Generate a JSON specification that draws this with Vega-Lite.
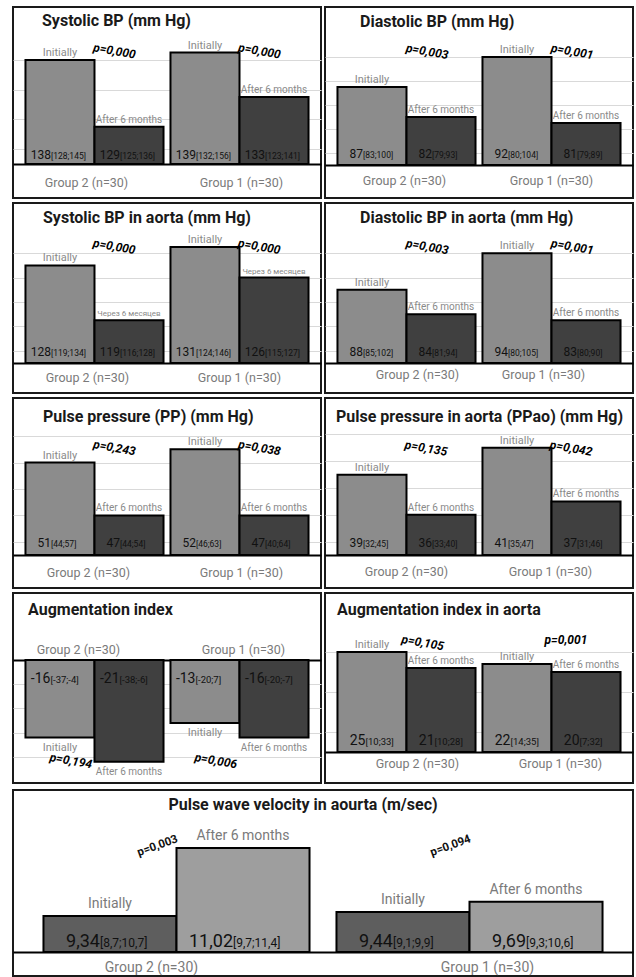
{
  "$schema": "https://vega.github.io/schema/vega-lite/v6.json",
  "background": "white",
  "padding": {"left": 12, "top": 6, "right": 0, "bottom": 0},
  "spacing": 5,
  "resolve": {"scale": {"color": "independent", "xOffset": "independent"}},
  "data": {"values": [
    {"panel":"sbp","group":"Group 2 (n=30)","phase":"Initially","label":"Initially","value":138,"num":"138","iqr":"[128;145]","p":"p=0,000"},
    {"panel":"sbp","group":"Group 2 (n=30)","phase":"After 6 months","label":"After 6 months","value":129,"num":"129","iqr":"[125;136]","p":"p=0,000"},
    {"panel":"sbp","group":"Group 1 (n=30)","phase":"Initially","label":"Initially","value":139,"num":"139","iqr":"[132;156]","p":"p=0,000"},
    {"panel":"sbp","group":"Group 1 (n=30)","phase":"After 6 months","label":"After 6 months","value":133,"num":"133","iqr":"[123;141]","p":"p=0,000"},
    {"panel":"dbp","group":"Group 2 (n=30)","phase":"Initially","label":"Initially","value":87,"num":"87","iqr":"[83;100]","p":"p=0,003"},
    {"panel":"dbp","group":"Group 2 (n=30)","phase":"After 6 months","label":"After 6 months","value":82,"num":"82","iqr":"[79;93]","p":"p=0,003"},
    {"panel":"dbp","group":"Group 1 (n=30)","phase":"Initially","label":"Initially","value":92,"num":"92","iqr":"[80;104]","p":"p=0,001"},
    {"panel":"dbp","group":"Group 1 (n=30)","phase":"After 6 months","label":"After 6 months","value":81,"num":"81","iqr":"[79;89]","p":"p=0,001"},
    {"panel":"sbpa","group":"Group 2 (n=30)","phase":"Initially","label":"Initially","value":128,"num":"128","iqr":"[119;134]","p":"p=0,000"},
    {"panel":"sbpa","group":"Group 2 (n=30)","phase":"After 6 months","label":"Через 6 месяцев","value":119,"num":"119","iqr":"[116;128]","p":"p=0,000"},
    {"panel":"sbpa","group":"Group 1 (n=30)","phase":"Initially","label":"Initially","value":131,"num":"131","iqr":"[124;146]","p":"p=0,000"},
    {"panel":"sbpa","group":"Group 1 (n=30)","phase":"After 6 months","label":"Через 6 месяцев","value":126,"num":"126","iqr":"[115;127]","p":"p=0,000"},
    {"panel":"dbpa","group":"Group 2 (n=30)","phase":"Initially","label":"Initially","value":88,"num":"88","iqr":"[85;102]","p":"p=0,003"},
    {"panel":"dbpa","group":"Group 2 (n=30)","phase":"After 6 months","label":"After 6 months","value":84,"num":"84","iqr":"[81;94]","p":"p=0,003"},
    {"panel":"dbpa","group":"Group 1 (n=30)","phase":"Initially","label":"Initially","value":94,"num":"94","iqr":"[80;105]","p":"p=0,001"},
    {"panel":"dbpa","group":"Group 1 (n=30)","phase":"After 6 months","label":"After 6 months","value":83,"num":"83","iqr":"[80;90]","p":"p=0,001"},
    {"panel":"pp","group":"Group 2 (n=30)","phase":"Initially","label":"Initially","value":51,"num":"51","iqr":"[44;57]","p":"p=0,243"},
    {"panel":"pp","group":"Group 2 (n=30)","phase":"After 6 months","label":"After 6 months","value":47,"num":"47","iqr":"[44;54]","p":"p=0,243"},
    {"panel":"pp","group":"Group 1 (n=30)","phase":"Initially","label":"Initially","value":52,"num":"52","iqr":"[46;63]","p":"p=0,038"},
    {"panel":"pp","group":"Group 1 (n=30)","phase":"After 6 months","label":"After 6 months","value":47,"num":"47","iqr":"[40;64]","p":"p=0,038"},
    {"panel":"ppa","group":"Group 2 (n=30)","phase":"Initially","label":"Initially","value":39,"num":"39","iqr":"[32;45]","p":"p=0,135"},
    {"panel":"ppa","group":"Group 2 (n=30)","phase":"After 6 months","label":"After 6 months","value":36,"num":"36","iqr":"[33;40]","p":"p=0,135"},
    {"panel":"ppa","group":"Group 1 (n=30)","phase":"Initially","label":"Initially","value":41,"num":"41","iqr":"[35;47]","p":"p=0,042"},
    {"panel":"ppa","group":"Group 1 (n=30)","phase":"After 6 months","label":"After 6 months","value":37,"num":"37","iqr":"[31;46]","p":"p=0,042"},
    {"panel":"ai","group":"Group 2 (n=30)","phase":"Initially","label":"Initially","value":-16,"num":"-16","iqr":"[-37;-4]","p":"p=0,194"},
    {"panel":"ai","group":"Group 2 (n=30)","phase":"After 6 months","label":"After 6 months","value":-21,"num":"-21","iqr":"[-38;-6]","p":"p=0,194"},
    {"panel":"ai","group":"Group 1 (n=30)","phase":"Initially","label":"Initially","value":-13,"num":"-13","iqr":"[-20;7]","p":"p=0,006"},
    {"panel":"ai","group":"Group 1 (n=30)","phase":"After 6 months","label":"After 6 months","value":-16,"num":"-16","iqr":"[-20;-7]","p":"p=0,006"},
    {"panel":"aia","group":"Group 2 (n=30)","phase":"Initially","label":"Initially","value":25,"num":"25","iqr":"[10;33]","p":"p=0,105"},
    {"panel":"aia","group":"Group 2 (n=30)","phase":"After 6 months","label":"After 6 months","value":21,"num":"21","iqr":"[10;28]","p":"p=0,105"},
    {"panel":"aia","group":"Group 1 (n=30)","phase":"Initially","label":"Initially","value":22,"num":"22","iqr":"[14;35]","p":"p=0,001"},
    {"panel":"aia","group":"Group 1 (n=30)","phase":"After 6 months","label":"After 6 months","value":20,"num":"20","iqr":"[7;32]","p":"p=0,001"},
    {"panel":"pwv","group":"Group 2 (n=30)","phase":"Initially","label":"Initially","value":9.34,"num":"9,34","iqr":"[8,7;10,7]","p":"p=0,003"},
    {"panel":"pwv","group":"Group 2 (n=30)","phase":"After 6 months","label":"After 6 months","value":11.02,"num":"11,02","iqr":"[9,7;11,4]","p":"p=0,003"},
    {"panel":"pwv","group":"Group 1 (n=30)","phase":"Initially","label":"Initially","value":9.44,"num":"9,44","iqr":"[9,1;9,9]","p":"p=0,094"},
    {"panel":"pwv","group":"Group 1 (n=30)","phase":"After 6 months","label":"After 6 months","value":9.69,"num":"9,69","iqr":"[9,3;10,6]","p":"p=0,094"}
  ]},
  "vconcat": [
    {
      "spacing": 3,
      "resolve": {"scale": {"color": "independent", "xOffset": "independent"}},
      "vconcat": [
        {
          "spacing": 2,
          "resolve": {"scale": {"color": "independent", "xOffset": "independent"}},
          "hconcat": [
            {
              "width": 308, "height": 191,
              "title": {"text": "Systolic BP (mm Hg)", "anchor": "start", "frame": "group", "offset": -35, "dx": 29, "baseline": "alphabetic"},
              "transform": [{"filter": "datum.panel === 'sbp'"}, {"joinaggregate": [{"op": "max", "field": "value", "as": "vext"}]}],
              "encoding": {"x": {"field": "group", "type": "nominal", "sort": ["Group 2 (n=30)", "Group 1 (n=30)"], "title": null, "scale": {"paddingInner": 0.048, "paddingOuter": 0.086}, "axis": {"orient": "bottom", "offset": -34, "labelPadding": 12, "labelOffset": {"condition": {"test": "datum.value === 'Group 2 (n=30)'", "value": -8}, "value": 2}}}},
              "layer": [
                {"mark": {"type": "bar", "stroke": "#000", "strokeWidth": 2},
                 "encoding": {"xOffset": {"field": "phase", "type": "nominal", "sort": ["Initially", "After 6 months"], "scale": {"paddingInner": 0, "paddingOuter": 0}},
                   "y": {"field": "value", "type": "quantitative", "title": null, "scale": {"domain": [119.42, 145.13], "zero": false, "nice": false}, "axis": {"values": [126,128,130,132,134,136,138,140]}},
                   "y2": {"datum": 124},
                   "color": {"field": "phase", "type": "nominal", "scale": {"domain": ["Initially", "After 6 months"], "range": ["#8c8c8c", "#404040"]}, "legend": null}}},
                {"mark": {"type": "text", "align": "right", "baseline": "alphabetic", "dx": -9, "dy": -5, "fontSize": 12, "color": "#111"},
                 "encoding": {"xOffset": {"field": "phase", "type": "nominal", "sort": ["Initially", "After 6 months"]}, "y": {"datum": 124, "type": "quantitative", "title": null, "scale": {"domain": [119.42, 145.13], "zero": false, "nice": false}}, "text": {"field": "num"}}},
                {"mark": {"type": "text", "align": "left", "baseline": "alphabetic", "dx": -9, "dy": -5, "fontSize": 8.5, "color": "#111"},
                 "encoding": {"xOffset": {"field": "phase", "type": "nominal", "sort": ["Initially", "After 6 months"]}, "y": {"datum": 124, "type": "quantitative", "title": null, "scale": {"domain": [119.42, 145.13], "zero": false, "nice": false}}, "text": {"field": "iqr"}}},
                {"mark": {"type": "text", "baseline": "alphabetic", "dy": -4, "color": "#8a8a8a"},
                 "encoding": {"xOffset": {"field": "phase", "type": "nominal", "sort": ["Initially", "After 6 months"]}, "y": {"field": "value", "type": "quantitative", "title": null, "scale": {"domain": [119.42, 145.13], "zero": false, "nice": false}}, "text": {"field": "label"},
                   "size": {"condition": [{"test": "datum.phase === 'Initially'", "value": 11}, {"test": "datum.label !== datum.phase", "value": 8}], "value": 10}}},
                {"transform": [{"filter": "datum.phase === 'Initially'"}],
                 "mark": {"type": "text", "align": "left", "baseline": "middle", "angle": 10, "dx": -2, "dy": -5, "fontSize": 12, "fontWeight": "bold", "fontStyle": "italic", "color": "#000"},
                 "encoding": {"y": {"field": "vext", "type": "quantitative", "title": null, "scale": {"domain": [119.42, 145.13], "zero": false, "nice": false}}, "text": {"field": "p"}}}
              ]
            },
            {
              "width": 308, "height": 191,
              "title": {"text": "Diastolic BP (mm Hg)", "anchor": "start", "frame": "group", "offset": -36, "dx": 35, "baseline": "alphabetic"},
              "transform": [{"filter": "datum.panel === 'dbp'"}, {"joinaggregate": [{"op": "max", "field": "value", "as": "vext"}]}],
              "encoding": {"x": {"field": "group", "type": "nominal", "sort": ["Group 2 (n=30)", "Group 1 (n=30)"], "title": null, "scale": {"paddingInner": 0.048, "paddingOuter": 0.086}, "axis": {"orient": "bottom", "offset": -33, "labelPadding": 9, "labelOffset": {"condition": {"test": "datum.value === 'Group 2 (n=30)'", "value": -2}, "value": 0}}}},
              "layer": [
                {"mark": {"type": "bar", "stroke": "#000", "strokeWidth": 2},
                 "encoding": {"xOffset": {"field": "phase", "type": "nominal", "sort": ["Initially", "After 6 months"], "scale": {"paddingInner": 0, "paddingOuter": 0}},
                   "y": {"field": "value", "type": "quantitative", "title": null, "scale": {"domain": [68.5, 100.33], "zero": false, "nice": false}, "axis": {"values": [76,78,80,82,84,86,88,90,92,94]}},
                   "y2": {"datum": 74},
                   "color": {"field": "phase", "type": "nominal", "scale": {"domain": ["Initially", "After 6 months"], "range": ["#8c8c8c", "#404040"]}, "legend": null}}},
                {"mark": {"type": "text", "align": "right", "baseline": "alphabetic", "dx": -9, "dy": -7, "fontSize": 12, "color": "#111"},
                 "encoding": {"xOffset": {"field": "phase", "type": "nominal", "sort": ["Initially", "After 6 months"]}, "y": {"datum": 74, "type": "quantitative", "title": null, "scale": {"domain": [68.5, 100.33], "zero": false, "nice": false}}, "text": {"field": "num"}}},
                {"mark": {"type": "text", "align": "left", "baseline": "alphabetic", "dx": -9, "dy": -7, "fontSize": 8.5, "color": "#111"},
                 "encoding": {"xOffset": {"field": "phase", "type": "nominal", "sort": ["Initially", "After 6 months"]}, "y": {"datum": 74, "type": "quantitative", "title": null, "scale": {"domain": [68.5, 100.33], "zero": false, "nice": false}}, "text": {"field": "iqr"}}},
                {"mark": {"type": "text", "baseline": "alphabetic", "dy": -4, "color": "#8a8a8a"},
                 "encoding": {"xOffset": {"field": "phase", "type": "nominal", "sort": ["Initially", "After 6 months"]}, "y": {"field": "value", "type": "quantitative", "title": null, "scale": {"domain": [68.5, 100.33], "zero": false, "nice": false}}, "text": {"field": "label"},
                   "size": {"condition": [{"test": "datum.phase === 'Initially'", "value": 11}, {"test": "datum.label !== datum.phase", "value": 8}], "value": 10}}},
                {"transform": [{"filter": "datum.phase === 'Initially'"}],
                 "mark": {"type": "text", "align": "left", "baseline": "middle", "angle": 10, "dx": -2, "dy": -9, "fontSize": 12, "fontWeight": "bold", "fontStyle": "italic", "color": "#000"},
                 "encoding": {"y": {"field": "vext", "type": "quantitative", "title": null, "scale": {"domain": [68.5, 100.33], "zero": false, "nice": false}}, "text": {"field": "p"}}}
              ]
            }
          ]
        },
        {
          "spacing": 2,
          "resolve": {"scale": {"color": "independent", "xOffset": "independent"}},
          "hconcat": [
            {
              "width": 308, "height": 190,
              "title": {"text": "Systolic BP in aorta (mm Hg)", "anchor": "start", "frame": "group", "offset": -36, "dx": 30, "baseline": "alphabetic"},
              "transform": [{"filter": "datum.panel === 'sbpa'"}, {"joinaggregate": [{"op": "max", "field": "value", "as": "vext"}]}],
              "encoding": {"x": {"field": "group", "type": "nominal", "sort": ["Group 2 (n=30)", "Group 1 (n=30)"], "title": null, "scale": {"paddingInner": 0.048, "paddingOuter": 0.086}, "axis": {"orient": "bottom", "offset": -30, "labelPadding": 8, "labelOffset": {"condition": {"test": "datum.value === 'Group 2 (n=30)'", "value": -7}, "value": 0}}}},
              "layer": [
                {"mark": {"type": "bar", "stroke": "#000", "strokeWidth": 2},
                 "encoding": {"xOffset": {"field": "phase", "type": "nominal", "sort": ["Initially", "After 6 months"], "scale": {"paddingInner": 0, "paddingOuter": 0}},
                   "y": {"field": "value", "type": "quantitative", "title": null, "scale": {"domain": [107.08, 138.23], "zero": false, "nice": false}, "axis": {"values": [114,116,118,120,122,124,126,128,130,132]}},
                   "y2": {"datum": 112},
                   "color": {"field": "phase", "type": "nominal", "scale": {"domain": ["Initially", "After 6 months"], "range": ["#8c8c8c", "#404040"]}, "legend": null}}},
                {"mark": {"type": "text", "align": "right", "baseline": "alphabetic", "dx": -9, "dy": -7, "fontSize": 12, "color": "#111"},
                 "encoding": {"xOffset": {"field": "phase", "type": "nominal", "sort": ["Initially", "After 6 months"]}, "y": {"datum": 112, "type": "quantitative", "title": null, "scale": {"domain": [107.08, 138.23], "zero": false, "nice": false}}, "text": {"field": "num"}}},
                {"mark": {"type": "text", "align": "left", "baseline": "alphabetic", "dx": -9, "dy": -7, "fontSize": 8.5, "color": "#111"},
                 "encoding": {"xOffset": {"field": "phase", "type": "nominal", "sort": ["Initially", "After 6 months"]}, "y": {"datum": 112, "type": "quantitative", "title": null, "scale": {"domain": [107.08, 138.23], "zero": false, "nice": false}}, "text": {"field": "iqr"}}},
                {"mark": {"type": "text", "baseline": "alphabetic", "dy": -4, "color": "#8a8a8a"},
                 "encoding": {"xOffset": {"field": "phase", "type": "nominal", "sort": ["Initially", "After 6 months"]}, "y": {"field": "value", "type": "quantitative", "title": null, "scale": {"domain": [107.08, 138.23], "zero": false, "nice": false}}, "text": {"field": "label"},
                   "size": {"condition": [{"test": "datum.phase === 'Initially'", "value": 11}, {"test": "datum.label !== datum.phase", "value": 8}], "value": 10}}},
                {"transform": [{"filter": "datum.phase === 'Initially'"}],
                 "mark": {"type": "text", "align": "left", "baseline": "middle", "angle": 10, "dx": -2, "dy": -4, "fontSize": 12, "fontWeight": "bold", "fontStyle": "italic", "color": "#000"},
                 "encoding": {"y": {"field": "vext", "type": "quantitative", "title": null, "scale": {"domain": [107.08, 138.23], "zero": false, "nice": false}}, "text": {"field": "p"}}}
              ]
            },
            {
              "width": 308, "height": 190,
              "title": {"text": "Diastolic BP in aorta (mm Hg)", "anchor": "start", "frame": "group", "offset": -36, "dx": 35, "baseline": "alphabetic"},
              "transform": [{"filter": "datum.panel === 'dbpa'"}, {"joinaggregate": [{"op": "max", "field": "value", "as": "vext"}]}],
              "encoding": {"x": {"field": "group", "type": "nominal", "sort": ["Group 2 (n=30)", "Group 1 (n=30)"], "title": null, "scale": {"paddingInner": 0.048, "paddingOuter": 0.086}, "axis": {"orient": "bottom", "offset": -30, "labelPadding": 5, "labelOffset": {"condition": {"test": "datum.value === 'Group 2 (n=30)'", "value": 11}, "value": -8}}}},
              "layer": [
                {"mark": {"type": "bar", "stroke": "#000", "strokeWidth": 2},
                 "encoding": {"xOffset": {"field": "phase", "type": "nominal", "sort": ["Initially", "After 6 months"], "scale": {"paddingInner": 0, "paddingOuter": 0}},
                   "y": {"field": "value", "type": "quantitative", "title": null, "scale": {"domain": [71.08, 102.23], "zero": false, "nice": false}, "axis": {"values": [78,80,82,84,86,88,90,92,94,96]}},
                   "y2": {"datum": 76},
                   "color": {"field": "phase", "type": "nominal", "scale": {"domain": ["Initially", "After 6 months"], "range": ["#8c8c8c", "#404040"]}, "legend": null}}},
                {"mark": {"type": "text", "align": "right", "baseline": "alphabetic", "dx": -9, "dy": -7, "fontSize": 12, "color": "#111"},
                 "encoding": {"xOffset": {"field": "phase", "type": "nominal", "sort": ["Initially", "After 6 months"]}, "y": {"datum": 76, "type": "quantitative", "title": null, "scale": {"domain": [71.08, 102.23], "zero": false, "nice": false}}, "text": {"field": "num"}}},
                {"mark": {"type": "text", "align": "left", "baseline": "alphabetic", "dx": -9, "dy": -7, "fontSize": 8.5, "color": "#111"},
                 "encoding": {"xOffset": {"field": "phase", "type": "nominal", "sort": ["Initially", "After 6 months"]}, "y": {"datum": 76, "type": "quantitative", "title": null, "scale": {"domain": [71.08, 102.23], "zero": false, "nice": false}}, "text": {"field": "iqr"}}},
                {"mark": {"type": "text", "baseline": "alphabetic", "dy": -4, "color": "#8a8a8a"},
                 "encoding": {"xOffset": {"field": "phase", "type": "nominal", "sort": ["Initially", "After 6 months"]}, "y": {"field": "value", "type": "quantitative", "title": null, "scale": {"domain": [71.08, 102.23], "zero": false, "nice": false}}, "text": {"field": "label"},
                   "size": {"condition": [{"test": "datum.phase === 'Initially'", "value": 11}, {"test": "datum.label !== datum.phase", "value": 8}], "value": 10}}},
                {"transform": [{"filter": "datum.phase === 'Initially'"}],
                 "mark": {"type": "text", "align": "left", "baseline": "middle", "angle": 10, "dx": -2, "dy": -10, "fontSize": 12, "fontWeight": "bold", "fontStyle": "italic", "color": "#000"},
                 "encoding": {"y": {"field": "vext", "type": "quantitative", "title": null, "scale": {"domain": [71.08, 102.23], "zero": false, "nice": false}}, "text": {"field": "p"}}}
              ]
            }
          ]
        },
        {
          "spacing": 2,
          "resolve": {"scale": {"color": "independent", "xOffset": "independent"}},
          "hconcat": [
            {
              "width": 308, "height": 190,
              "title": {"text": "Pulse pressure (PP) (mm Hg)", "anchor": "start", "frame": "group", "offset": -40, "dx": 30, "baseline": "alphabetic"},
              "transform": [{"filter": "datum.panel === 'pp'"}, {"joinaggregate": [{"op": "max", "field": "value", "as": "vext"}]}],
              "encoding": {"x": {"field": "group", "type": "nominal", "sort": ["Group 2 (n=30)", "Group 1 (n=30)"], "title": null, "scale": {"paddingInner": 0.048, "paddingOuter": 0.086}, "axis": {"orient": "bottom", "offset": -33, "labelPadding": 11, "labelOffset": {"condition": {"test": "datum.value === 'Group 2 (n=30)'", "value": -6}, "value": 2}}}},
              "layer": [
                {"mark": {"type": "bar", "stroke": "#000", "strokeWidth": 2},
                 "encoding": {"xOffset": {"field": "phase", "type": "nominal", "sort": ["Initially", "After 6 months"], "scale": {"paddingInner": 0, "paddingOuter": 0}},
                   "y": {"field": "value", "type": "quantitative", "title": null, "scale": {"domain": [41.5, 55.89], "zero": false, "nice": false}, "axis": {"values": [45,46,47,48,49,50,51,52,53]}},
                   "y2": {"datum": 44},
                   "color": {"field": "phase", "type": "nominal", "scale": {"domain": ["Initially", "After 6 months"], "range": ["#8c8c8c", "#404040"]}, "legend": null}}},
                {"mark": {"type": "text", "align": "right", "baseline": "alphabetic", "dx": -9, "dy": -8, "fontSize": 12, "color": "#111"},
                 "encoding": {"xOffset": {"field": "phase", "type": "nominal", "sort": ["Initially", "After 6 months"]}, "y": {"datum": 44, "type": "quantitative", "title": null, "scale": {"domain": [41.5, 55.89], "zero": false, "nice": false}}, "text": {"field": "num"}}},
                {"mark": {"type": "text", "align": "left", "baseline": "alphabetic", "dx": -9, "dy": -8, "fontSize": 8.5, "color": "#111"},
                 "encoding": {"xOffset": {"field": "phase", "type": "nominal", "sort": ["Initially", "After 6 months"]}, "y": {"datum": 44, "type": "quantitative", "title": null, "scale": {"domain": [41.5, 55.89], "zero": false, "nice": false}}, "text": {"field": "iqr"}}},
                {"mark": {"type": "text", "baseline": "alphabetic", "dy": -4, "color": "#8a8a8a"},
                 "encoding": {"xOffset": {"field": "phase", "type": "nominal", "sort": ["Initially", "After 6 months"]}, "y": {"field": "value", "type": "quantitative", "title": null, "scale": {"domain": [41.5, 55.89], "zero": false, "nice": false}}, "text": {"field": "label"},
                   "size": {"condition": [{"test": "datum.phase === 'Initially'", "value": 11}, {"test": "datum.label !== datum.phase", "value": 8}], "value": 10}}},
                {"transform": [{"filter": "datum.phase === 'Initially'"}],
                 "mark": {"type": "text", "align": "left", "baseline": "middle", "angle": 10, "dx": -2, "dy": -5, "fontSize": 12, "fontWeight": "bold", "fontStyle": "italic", "color": "#000"},
                 "encoding": {"y": {"field": "vext", "type": "quantitative", "title": null, "scale": {"domain": [41.5, 55.89], "zero": false, "nice": false}}, "text": {"field": "p"}}}
              ]
            },
            {
              "width": 308, "height": 190,
              "title": {"text": "Pulse pressure in aorta (PPao) (mm Hg)", "anchor": "start", "frame": "group", "offset": -40, "dx": 11, "baseline": "alphabetic"},
              "transform": [{"filter": "datum.panel === 'ppa'"}, {"joinaggregate": [{"op": "max", "field": "value", "as": "vext"}]}],
              "encoding": {"x": {"field": "group", "type": "nominal", "sort": ["Group 2 (n=30)", "Group 1 (n=30)"], "title": null, "scale": {"paddingInner": 0.048, "paddingOuter": 0.086}, "axis": {"orient": "bottom", "offset": -33, "labelPadding": 10, "labelOffset": {"condition": {"test": "datum.value === 'Group 2 (n=30)'", "value": 0}, "value": -1}}}},
              "layer": [
                {"mark": {"type": "bar", "stroke": "#000", "strokeWidth": 2},
                 "encoding": {"xOffset": {"field": "phase", "type": "nominal", "sort": ["Initially", "After 6 months"], "scale": {"paddingInner": 0, "paddingOuter": 0}},
                   "y": {"field": "value", "type": "quantitative", "title": null, "scale": {"domain": [30.54, 44.72], "zero": false, "nice": false}, "axis": {"values": [34,35,36,37,38,39,40,41,42]}},
                   "y2": {"datum": 33},
                   "color": {"field": "phase", "type": "nominal", "scale": {"domain": ["Initially", "After 6 months"], "range": ["#8c8c8c", "#404040"]}, "legend": null}}},
                {"mark": {"type": "text", "align": "right", "baseline": "alphabetic", "dx": -9, "dy": -8, "fontSize": 12, "color": "#111"},
                 "encoding": {"xOffset": {"field": "phase", "type": "nominal", "sort": ["Initially", "After 6 months"]}, "y": {"datum": 33, "type": "quantitative", "title": null, "scale": {"domain": [30.54, 44.72], "zero": false, "nice": false}}, "text": {"field": "num"}}},
                {"mark": {"type": "text", "align": "left", "baseline": "alphabetic", "dx": -9, "dy": -8, "fontSize": 8.5, "color": "#111"},
                 "encoding": {"xOffset": {"field": "phase", "type": "nominal", "sort": ["Initially", "After 6 months"]}, "y": {"datum": 33, "type": "quantitative", "title": null, "scale": {"domain": [30.54, 44.72], "zero": false, "nice": false}}, "text": {"field": "iqr"}}},
                {"mark": {"type": "text", "baseline": "alphabetic", "dy": -4, "color": "#8a8a8a"},
                 "encoding": {"xOffset": {"field": "phase", "type": "nominal", "sort": ["Initially", "After 6 months"]}, "y": {"field": "value", "type": "quantitative", "title": null, "scale": {"domain": [30.54, 44.72], "zero": false, "nice": false}}, "text": {"field": "label"},
                   "size": {"condition": [{"test": "datum.phase === 'Initially'", "value": 11}, {"test": "datum.label !== datum.phase", "value": 8}], "value": 10}}},
                {"transform": [{"filter": "datum.phase === 'Initially'"}],
                 "mark": {"type": "text", "align": "left", "baseline": "middle", "angle": 10, "dx": -2, "dy": -3, "fontSize": 12, "fontWeight": "bold", "fontStyle": "italic", "color": "#000"},
                 "encoding": {"y": {"field": "vext", "type": "quantitative", "title": null, "scale": {"domain": [30.54, 44.72], "zero": false, "nice": false}}, "text": {"field": "p"}}}
              ]
            }
          ]
        },
        {
          "spacing": 2,
          "resolve": {"scale": {"color": "independent", "xOffset": "independent"}},
          "hconcat": [
            {
              "width": 308, "height": 190,
              "title": {"text": "Augmentation index", "anchor": "start", "frame": "group", "offset": -38, "dx": 15, "baseline": "alphabetic"},
              "transform": [{"filter": "datum.panel === 'ai'"}, {"joinaggregate": [{"op": "min", "field": "value", "as": "vext"}]}],
              "encoding": {"x": {"field": "group", "type": "nominal", "sort": ["Group 2 (n=30)", "Group 1 (n=30)"], "title": null, "scale": {"paddingInner": 0.048, "paddingOuter": 0.086}, "axis": {"orient": "top", "offset": -67, "labelPadding": 4, "labelOffset": {"condition": {"test": "datum.value === 'Group 2 (n=30)'", "value": -16}, "value": 4}}}},
              "layer": [
                {"mark": {"type": "bar", "stroke": "#000", "strokeWidth": 2},
                 "encoding": {"xOffset": {"field": "phase", "type": "nominal", "sort": ["Initially", "After 6 months"], "scale": {"paddingInner": 0, "paddingOuter": 0}},
                   "y": {"field": "value", "type": "quantitative", "title": null, "scale": {"domain": [-25.36, 13.81], "zero": false, "nice": false}, "axis": {"values": [-5,-10,-15,-20]}},
                   "y2": {"datum": 0},
                   "color": {"field": "phase", "type": "nominal", "scale": {"domain": ["Initially", "After 6 months"], "range": ["#8c8c8c", "#404040"]}, "legend": null}}},
                {"mark": {"type": "text", "align": "right", "baseline": "alphabetic", "dx": -9.5, "dy": 23, "fontSize": 14, "color": "#111"},
                 "encoding": {"xOffset": {"field": "phase", "type": "nominal", "sort": ["Initially", "After 6 months"]}, "y": {"datum": 0, "type": "quantitative", "title": null, "scale": {"domain": [-25.36, 13.81], "zero": false, "nice": false}}, "text": {"field": "num"}}},
                {"mark": {"type": "text", "align": "left", "baseline": "alphabetic", "dx": -9.5, "dy": 23, "fontSize": 9.5, "color": "#111"},
                 "encoding": {"xOffset": {"field": "phase", "type": "nominal", "sort": ["Initially", "After 6 months"]}, "y": {"datum": 0, "type": "quantitative", "title": null, "scale": {"domain": [-25.36, 13.81], "zero": false, "nice": false}}, "text": {"field": "iqr"}}},
                {"mark": {"type": "text", "baseline": "middle", "dy": 10, "color": "#8a8a8a"},
                 "encoding": {"xOffset": {"field": "phase", "type": "nominal", "sort": ["Initially", "After 6 months"]}, "y": {"field": "value", "type": "quantitative", "title": null, "scale": {"domain": [-25.36, 13.81], "zero": false, "nice": false}}, "text": {"field": "label"},
                   "size": {"condition": [{"test": "datum.phase === 'Initially'", "value": 11}, {"test": "datum.label !== datum.phase", "value": 8}], "value": 10}}},
                {"transform": [{"filter": "datum.phase === 'Initially'"}],
                 "mark": {"type": "text", "align": "right", "baseline": "middle", "angle": 10, "dx": -2, "dy": 3, "fontSize": 12, "fontWeight": "bold", "fontStyle": "italic", "color": "#000"},
                 "encoding": {"y": {"field": "vext", "type": "quantitative", "title": null, "scale": {"domain": [-25.36, 13.81], "zero": false, "nice": false}}, "text": {"field": "p"}}}
              ]
            },
            {
              "width": 308, "height": 190,
              "title": {"text": "Augmentation index in aorta", "anchor": "start", "frame": "group", "offset": -38, "dx": 12, "baseline": "alphabetic"},
              "transform": [{"filter": "datum.panel === 'aia'"}, {"joinaggregate": [{"op": "max", "field": "value", "as": "vext"}]}],
              "encoding": {"x": {"field": "group", "type": "nominal", "sort": ["Group 2 (n=30)", "Group 1 (n=30)"], "title": null, "scale": {"paddingInner": 0.048, "paddingOuter": 0.086}, "axis": {"orient": "bottom", "offset": -31, "labelPadding": 5, "labelOffset": {"condition": {"test": "datum.value === 'Group 2 (n=30)'", "value": 11}, "value": 9}}}},
              "layer": [
                {"mark": {"type": "bar", "stroke": "#000", "strokeWidth": 2},
                 "encoding": {"xOffset": {"field": "phase", "type": "nominal", "sort": ["Initially", "After 6 months"], "scale": {"paddingInner": 0, "paddingOuter": 0}},
                   "y": {"field": "value", "type": "quantitative", "title": null, "scale": {"domain": [-7.75, 39.75], "zero": false, "nice": false}, "axis": {"values": [5,10,15,20,25,30]}},
                   "y2": {"datum": 0},
                   "color": {"field": "phase", "type": "nominal", "scale": {"domain": ["Initially", "After 6 months"], "range": ["#8c8c8c", "#404040"]}, "legend": null}}},
                {"mark": {"type": "text", "align": "right", "baseline": "alphabetic", "dx": -6.5, "dy": -7, "fontSize": 14, "color": "#111"},
                 "encoding": {"xOffset": {"field": "phase", "type": "nominal", "sort": ["Initially", "After 6 months"]}, "y": {"datum": 0, "type": "quantitative", "title": null, "scale": {"domain": [-7.75, 39.75], "zero": false, "nice": false}}, "text": {"field": "num"}}},
                {"mark": {"type": "text", "align": "left", "baseline": "alphabetic", "dx": -6.5, "dy": -7, "fontSize": 9.5, "color": "#111"},
                 "encoding": {"xOffset": {"field": "phase", "type": "nominal", "sort": ["Initially", "After 6 months"]}, "y": {"datum": 0, "type": "quantitative", "title": null, "scale": {"domain": [-7.75, 39.75], "zero": false, "nice": false}}, "text": {"field": "iqr"}}},
                {"mark": {"type": "text", "baseline": "alphabetic", "dy": -4, "color": "#8a8a8a"},
                 "encoding": {"xOffset": {"field": "phase", "type": "nominal", "sort": ["Initially", "After 6 months"]}, "y": {"field": "value", "type": "quantitative", "title": null, "scale": {"domain": [-7.75, 39.75], "zero": false, "nice": false}}, "text": {"field": "label"},
                   "size": {"condition": [{"test": "datum.phase === 'Initially'", "value": 11}, {"test": "datum.label !== datum.phase", "value": 8}], "value": 10}}},
                {"transform": [{"filter": "datum.phase === 'Initially'"}],
                 "mark": {"type": "text", "align": "left", "baseline": "middle", "dx": -7, "dy": -12, "fontSize": 12, "fontWeight": "bold", "fontStyle": "italic", "color": "#000"},
                 "encoding": {"y": {"field": "vext", "type": "quantitative", "title": null, "scale": {"domain": [-7.75, 39.75], "zero": false, "nice": false}}, "text": {"field": "p"},
                   "angle": {"condition": {"test": "datum.group === 'Group 1 (n=30)'", "value": 0}, "value": 10}}}
              ]
            }
          ]
        }
      ]
    },
    {
      "width": 620, "height": 186,
      "title": {"text": "Pulse wave velocity in aourta (m/sec)", "anchor": "middle", "frame": "group", "offset": -36, "dx": -20, "baseline": "alphabetic"},
      "transform": [{"filter": "datum.panel === 'pwv'"}, {"joinaggregate": [{"op": "max", "field": "value", "as": "vext"}]}],
      "encoding": {"x": {"field": "group", "type": "nominal", "sort": ["Group 2 (n=30)", "Group 1 (n=30)"], "title": null, "scale": {"paddingInner": 0.092, "paddingOuter": 0.104}, "axis": {"orient": "bottom", "offset": -24, "labelPadding": 8, "labelFontSize": 14, "labelOffset": {"condition": {"test": "datum.value === 'Group 2 (n=30)'", "value": -25}, "value": 18}}}},
      "layer": [
        {"mark": {"type": "bar", "stroke": "#000", "strokeWidth": 2},
         "encoding": {"xOffset": {"field": "phase", "type": "nominal", "sort": ["Initially", "After 6 months"], "scale": {"paddingInner": 0, "paddingOuter": 0}},
           "y": {"field": "value", "type": "quantitative", "title": null, "scale": {"domain": [7.857, 12.45], "zero": false, "nice": false}, "axis": {"grid": false}},
           "y2": {"datum": 8.45},
           "color": {"field": "phase", "type": "nominal", "scale": {"domain": ["Initially", "After 6 months"], "range": ["#5e5e5e", "#9e9e9e"]}, "legend": null}}},
        {"mark": {"type": "text", "align": "right", "baseline": "alphabetic", "dx": -10, "dy": -5, "fontSize": 18, "color": "#111"},
         "encoding": {"xOffset": {"field": "phase", "type": "nominal", "sort": ["Initially", "After 6 months"]}, "y": {"datum": 8.45, "type": "quantitative", "title": null, "scale": {"domain": [7.857, 12.45], "zero": false, "nice": false}}, "text": {"field": "num"}}},
        {"mark": {"type": "text", "align": "left", "baseline": "alphabetic", "dx": -10, "dy": -5, "fontSize": 12, "color": "#111"},
         "encoding": {"xOffset": {"field": "phase", "type": "nominal", "sort": ["Initially", "After 6 months"]}, "y": {"datum": 8.45, "type": "quantitative", "title": null, "scale": {"domain": [7.857, 12.45], "zero": false, "nice": false}}, "text": {"field": "iqr"}}},
        {"mark": {"type": "text", "baseline": "alphabetic", "dy": -8, "fontSize": 14, "color": "#7a7a7a"},
         "encoding": {"xOffset": {"field": "phase", "type": "nominal", "sort": ["Initially", "After 6 months"]}, "y": {"field": "value", "type": "quantitative", "title": null, "scale": {"domain": [7.857, 12.45], "zero": false, "nice": false}}, "text": {"field": "label"}}},
        {"transform": [{"filter": "datum.phase === 'Initially'"}],
         "mark": {"type": "text", "align": "right", "baseline": "middle", "angle": -20, "dx": 4, "dy": -8, "fontSize": 11.5, "fontWeight": "bold", "color": "#111"},
         "encoding": {"y": {"field": "vext", "type": "quantitative", "title": null, "scale": {"domain": [7.857, 12.45], "zero": false, "nice": false}}, "text": {"field": "p"}}}
      ]
    }
  ],
  "config": {
    "view": {"stroke": "#1a1a1a", "strokeWidth": 2, "fill": "white"},
    "font": "Roboto",
    "title": {"font": "Roboto", "fontSize": 16, "fontWeight": "bold", "color": "#1a1a1a"},
    "axis": {"minExtent": 0},
    "axisX": {"domainColor": "#000", "domainWidth": 2, "ticks": false, "tickSize": 0, "labelColor": "#7a7a7a", "labelFontSize": 12.5, "labelFont": "Roboto", "labelAngle": 0, "grid": false},
    "axisY": {"grid": true, "gridColor": "#d9d9d9", "gridWidth": 1, "domain": false, "ticks": false, "labels": false},
    "text": {"font": "Roboto"}
  }
}
